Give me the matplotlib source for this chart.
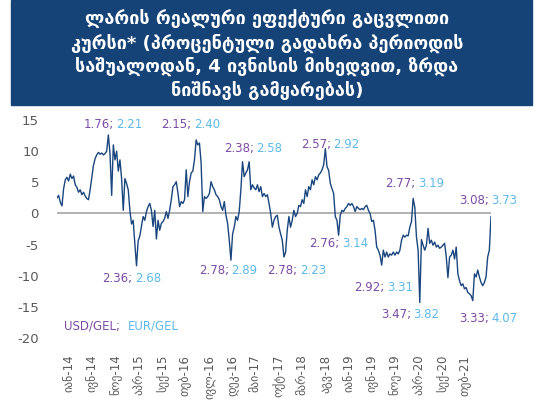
import numpy as np
import matplotlib
matplotlib.use("Agg")
import matplotlib.pyplot as plt
from matplotlib.patches import Rectangle

plt.rcParams['axes.unicode_minus'] = False

# REER deviation from period average, % (equal steps)
reer = [
    2.5, 2.9, 1.8, 1.2, 4.0, 5.4, 5.8, 5.2, 6.3, 5.6,
    6.0, 4.6, 4.2, 3.4, 3.8, 3.0, 3.4, 2.8, 2.4, 2.2,
    3.8, 5.8, 7.7, 8.8, 9.4, 9.8, 9.5, 9.7, 9.4, 9.6,
    10.0, 12.6, 9.6, 2.9, 11.0, 8.6, 10.0, 6.8, 8.6, 5.6,
    0.5, 5.6, 4.8, 3.8, 0.5, -1.7, -1.1, -4.9, -8.4, -4.4,
    -3.6, -2.0, -0.5, -1.1, 0.3, 1.1, 1.6, 0.5, -2.1, 0.5,
    -4.1, -1.1, -2.7, -1.6, -1.3, -0.8, 0.3, -0.8, 0.5, 2.2,
    4.3, 4.6, 5.1, 3.3, 1.1, 1.9, 1.6, 2.2, 7.0, 2.7,
    5.1, 6.5, 6.8, 8.6, 11.8, 11.0, 11.3, 8.1, 0.3, 2.7,
    2.4, 2.7, 3.2, 5.1, 4.3, 3.8, 3.0, 2.7, 2.2, 1.1,
    0.5, 1.9, -0.3, -1.6, -4.3, -7.5, -3.3, -2.2, -0.5, -1.1,
    0.3, 3.8, 8.3, 5.9, 6.5, 7.0, 8.3, 3.8, 4.6, 4.1,
    3.8, 4.6, 3.5, 4.3, 2.7, 3.2, 2.7, 3.0, 1.6, 0.0,
    -2.2, -1.1, -0.5, -0.3, -2.2, -3.3, -4.3, -7.0, -6.2, -2.7,
    -0.5, -2.2, -1.1, 0.5, -0.5, 0.0, 1.3, 1.1, 2.2, 1.6,
    3.8, 2.7, 4.3, 3.8, 5.4, 4.6, 5.9, 5.4, 6.2, 6.5,
    7.0, 7.8, 10.4, 7.5, 6.9, 4.8, 4.0, 3.2, -0.5, -1.1,
    -3.5, -0.3, 0.5, 0.3, 0.8, 1.1, 1.6, 1.3, 1.6, 1.1,
    0.3, 1.1, 0.8, 0.6, 0.8, 0.6, 1.1, 1.3, 0.5, 0.0,
    -1.3, -1.1, -2.7, -5.4, -5.9, -6.7, -8.3, -5.9, -7.0, -6.2,
    -7.0, -6.5, -6.7, -6.2, -6.7, -6.2, -6.5, -5.9, -4.3, -3.5,
    -3.8, -3.5, -3.6, -2.2, -1.3, 2.4, 1.0, -3.8, -5.9, -14.3,
    -4.2, -5.1, -5.9, -5.1, -2.4, -4.8, -4.3, -5.1, -4.6, -5.4,
    -5.1, -5.6, -5.4, -5.1, -4.8, -7.0, -10.3, -7.0, -6.7, -5.9,
    -7.3, -5.4, -9.7, -10.8, -11.6, -11.3, -12.1, -11.9, -12.7, -12.9,
    -13.2, -14.0, -9.7, -10.2, -9.1, -10.2, -11.1, -11.6, -11.1, -10.2,
    -7.0, -5.9, -0.5,
]

month_labels = ['იან-14', 'ივნ-14', 'ნოე-14', 'აპრ-15', 'სექ-15', 'თებ-16',
                'ივლ-16', 'დეკ-16', 'მაი-17', 'ოქტ-17', 'მარ-18', 'აგვ-18',
                'იან-19', 'ივნ-19', 'ნოე-19', 'აპრ-20', 'სექ-20', 'თებ-21']

# USD/GEL ; EUR/GEL rates at the marked extremes
usd_rates = ['1.76', '2.15', '2.38', '2.57', '2.77', '3.08',
             '2.36', '2.78', '2.78', '2.76', '2.92', '3.47', '3.33']
eur_rates = ['2.21', '2.40', '2.58', '2.92', '3.19', '3.73',
             '2.68', '2.89', '2.23', '3.14', '3.31', '3.82', '4.07']
# where the rate labels sit (sample index, % level)
lab_x = [33.8, 80.9, 118.4, 164.9, 216.2, 260.3,
         45.3, 103.3, 144.9, 170.3, 197.5, 213.2, 260.3]
lab_y = [14.3, 14.3, 10.5, 11.1, 4.8, 2.0,
         -10.4, -9.2, -9.1, -4.8, -11.9, -16.3, -16.8]

title = ("ლარის რეალური ეფექტური გაცვლითი\n"
         "კურსი* (პროცენტული გადახრა პერიოდის\n"
         "საშუალოდან, 4 ივნისის მიხედვით, ზრდა\n"
         "ნიშნავს გამყარებას)")

navy = '#154377'
line_col = '#1A467F'
purple = '#7D4BA6'
lblue = '#5DB9EA'
grey = '#595959'

fig = plt.figure(figsize=(5.34, 4.05), dpi=100)

# title banner
fig.patches.append(Rectangle((11 / 534, 1 - 105 / 405), 521 / 534, 105 / 405,
                             transform=fig.transFigure, color=navy, zorder=0))
fig.text(0.5, 1 - 55 / 405, title, ha='center', va='center', color='white',
         fontsize=13, fontweight='bold', linespacing=1.3,
         family=['DejaVu Sans'])

ax = fig.add_axes([57 / 534, 1 - 338 / 405, 434 / 534, 218 / 405])
x = np.arange(len(reer))
ax.plot(x, reer, color=line_col, lw=1.0, zorder=3)
ax.axhline(0, color='#A6A6A6', lw=1.2, zorder=2)

ax.set_xlim(0, len(reer) - 1)
ax.set_ylim(-20, 15)
ax.set_yticks(np.arange(-20, 16, 5))
ax.tick_params(axis='y', length=0, pad=13, labelsize=9.5, labelcolor=grey)

ticks = 7.2 + 14.07 * np.arange(len(month_labels))
ax.set_xticks(ticks)
ax.set_xticklabels(month_labels, rotation=90, fontsize=8.5, color=grey)
ax.tick_params(axis='x', length=0, pad=12)

for s in ax.spines.values():
    s.set_visible(False)

for u, e, lx, ly in zip(usd_rates, eur_rates, lab_x, lab_y):
    ax.annotate(u + ';', (lx, ly), xytext=(0.5, 0), textcoords='offset points',
                ha='right', va='center', color=purple, fontsize=8.5,
                annotation_clip=False)
    ax.annotate(e, (lx, ly), xytext=(2.0, 0), textcoords='offset points',
                ha='left', va='center', color=lblue, fontsize=8.5,
                annotation_clip=False)

ax.text(4.2, -18.1, 'USD/GEL;', ha='left', va='center', color=purple, fontsize=8.5)
ax.annotate('EUR/GEL', (4.2, -18.1), xytext=(46, 0), textcoords='offset points',
            ha='left', va='center', color=lblue, fontsize=8.5)

fig.savefig('out.png', dpi=100)
